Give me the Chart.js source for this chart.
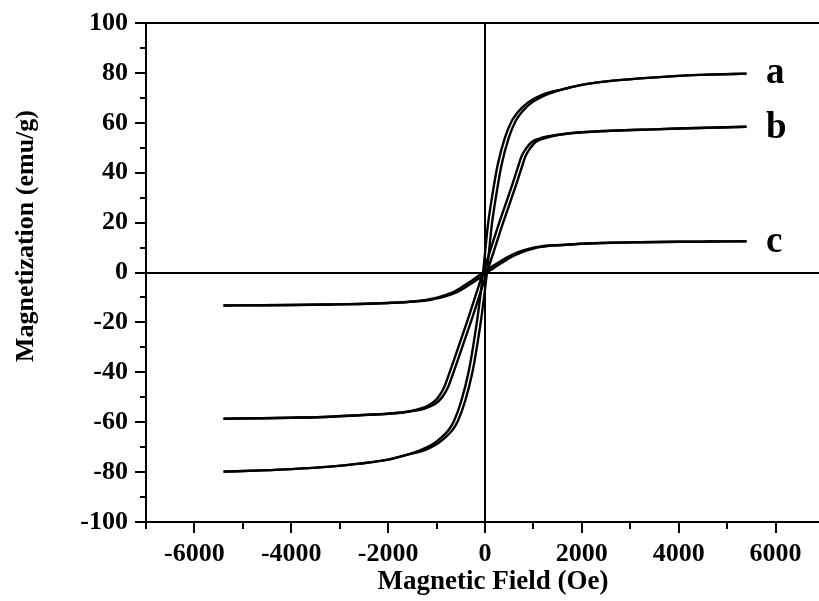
<!DOCTYPE html>
<html>
<head>
  <meta charset="utf-8">
  <title>M-H loops</title>
  <script src="https://cdn.jsdelivr.net/npm/chart.js@4/dist/chart.umd.min.js"></script>
  <style>
    html, body { margin: 0; padding: 0; background: #fff; overflow: hidden; }
    canvas { display: block; }
  </style>
</head>
<body>
  <canvas id="loops" width="830" height="601"></canvas>

  <script>
    // applied field (Oe), descending branch and ascending branch of each loop
    var fieldDown = [5400, 4600, 4000, 3200, 2600, 2000, 1600, 1260, 1110, 960, 860, 760, 660, 560, 410, 260, 160, 60, -40,
                     -140, -240, -340, -490, -640, -740, -840, -940, -1040, -1190, -1340, -1600, -2000, -2600, -3200, -4000, -4600, -5400];
    var fieldUp   = [5400, 4600, 4000, 3200, 2600, 2000, 1600, 1340, 1190, 1040, 940, 840, 740, 640, 490, 340, 240, 140, 40,
                     -60, -160, -260, -410, -560, -660, -760, -860, -960, -1110, -1260, -1600, -2000, -2600, -3200, -4000, -4600, -5400];

    // magnetization (emu/g) for samples a, b, c
    var magA = [79.7, 79.3, 78.8, 77.8, 76.8, 75.2, 73.4, 71.8, 70.6, 69, 67.7, 66, 63.8, 61, 54, 43, 32, 19, 0,
                -16, -29, -40, -51.5, -59.5, -62.8, -65, -66.8, -68.3, -70, -71.3, -73, -75, -76.6, -77.8, -78.8, -79.3, -79.8];
    var magB = [58.4, 58, 57.7, 57.2, 56.8, 56.2, 55.4, 54.4, 53.6, 52.2, 50, 46.8, 41, 35, 26.5, 18, 12, 6, 0,
                -6, -12, -18, -26.5, -35, -40.5, -45.8, -49.3, -51.6, -53.5, -54.6, -55.8, -56.6, -57.2, -57.8, -58.2, -58.4, -58.6];
    var magC = [12.5, 12.4, 12.3, 12.1, 11.9, 11.5, 11.0, 10.7, 10.3, 9.8, 9.3, 8.7, 8.0, 7.1, 5.6, 3.8, 2.6, 1.3, 0,
                -1.4, -2.8, -4.1, -6, -7.7, -8.5, -9.2, -9.8, -10.3, -10.9, -11.3, -11.8, -12.2, -12.6, -12.8, -13, -13.1, -13.2];

    var sampleNames = ['a', 'b', 'c'];
    var samples = [magA, magB, magC];

    var serif = "'Liberation Serif', 'Times New Roman', serif";
    var tickFont = { family: serif, size: 26, weight: 'bold' };

    function branch(fields, mags) {
      return {
        data: fields.map(function (f, i) { return { x: f, y: mags[i] }; }),
        showLine: true,
        borderColor: '#000',
        borderWidth: 2.4,
        pointRadius: 0,
        fill: false,
        cubicInterpolationMode: 'monotone'
      };
    }

    var datasets = [];
    samples.forEach(function (m) {
      datasets.push(branch(fieldDown, m));
      datasets.push(branch(fieldUp, m));
    });

    // frame, sample letters and axis titles
    var decor = {
      id: 'decor',
      afterDatasetsDraw: function (chart) {
        var c = chart.ctx, a = chart.chartArea;
        var sx = chart.scales.x, sy = chart.scales.y;
        c.save();
        c.strokeStyle = '#000';
        c.lineWidth = 2;
        c.beginPath();
        c.moveTo(a.left, a.top);
        c.lineTo(a.right, a.top);
        c.lineTo(a.right, a.bottom);
        c.stroke();

        // letters next to the curve ends
        var letterAt = [75.8, 53.8, 8.3];
        c.fillStyle = '#000';
        c.font = 'bold 37px ' + serif;
        c.textAlign = 'left';
        c.textBaseline = 'alphabetic';
        sampleNames.forEach(function (n, i) {
          c.fillText(n, sx.getPixelForValue(5800), sy.getPixelForValue(letterAt[i]));
        });

        // axis titles
        c.font = 'bold 27px ' + serif;
        c.textAlign = 'center';
        c.fillText('Magnetic Field (Oe)', 493, 589);
        c.translate(33, 236);
        c.rotate(-Math.PI / 2);
        c.font = 'bold 26px ' + serif;
        c.fillText('Magnetization (emu/g)', 0, 0);
        c.restore();
      }
    };

    var chart = new Chart(document.getElementById('loops').getContext('2d'), {
      type: 'scatter',
      data: { datasets: datasets },
      plugins: [decor],
      options: {
        responsive: false,
        animation: false,
        layout: { padding: { top: 23, right: 6, left: 0, bottom: 0 } },
        plugins: { legend: { display: false }, tooltip: { enabled: false } },
        scales: {
          x: {
            type: 'linear',
            min: -7000,
            max: 7000,
            afterFit: function (s) { s.height = 79; },
            border: { color: '#000', width: 2 },
            grid: {
              color: function (ctx) { return ctx.tick && ctx.tick.value === 0 ? '#000' : 'rgba(0,0,0,0)'; },
              lineWidth: 2,
              tickColor: '#000',
              tickWidth: 2,
              tickLength: 11,
              tickBorderDash: function (ctx) { return ctx.tick && ctx.tick.value % 2000 === 0 ? [] : [6, 100]; }
            },
            ticks: {
              stepSize: 1000,
              autoSkip: false,
              maxRotation: 0,
              padding: 6,
              color: '#000',
              font: tickFont,
              callback: function (v) { return v % 2000 === 0 ? String(v) : ''; }
            }
          },
          y: {
            type: 'linear',
            min: -100,
            max: 100,
            afterFit: function (s) { s.width = 146; },
            border: { color: '#000', width: 2 },
            grid: {
              color: function (ctx) { return ctx.tick && ctx.tick.value === 0 ? '#000' : 'rgba(0,0,0,0)'; },
              lineWidth: 2,
              tickColor: '#000',
              tickWidth: 2,
              tickLength: 11,
              tickBorderDash: function (ctx) { return ctx.tick && ctx.tick.value % 20 === 0 ? [] : [0, 5, 6, 100]; }
            },
            ticks: {
              stepSize: 10,
              autoSkip: false,
              padding: 7,
              color: '#000',
              font: tickFont,
              callback: function (v) { return v % 20 === 0 ? String(v) : ''; }
            }
          }
        }
      }
    });
  </script>
</body>
</html>
